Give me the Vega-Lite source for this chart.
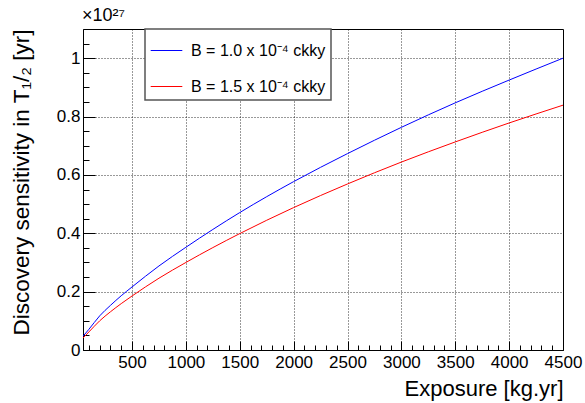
{
  "$schema": "https://vega.github.io/schema/vega-lite/v6.json",
  "width": 480,
  "height": 321,
  "autosize": "none",
  "padding": {"left": 83, "top": 29, "right": 22, "bottom": 53},
  "background": "white",
  "config": {
    "font": "Liberation Sans",
    "view": {"stroke": "black", "strokeWidth": 1},
    "legend": {"strokeWidth": 1.5}
  },
  "title": {"text": "×10²⁷", "anchor": "start", "frame": "group", "offset": 3, "fontSize": 18, "fontWeight": "normal", "font": "Liberation Sans", "color": "black", "dx": -1},
  "data": {
    "values": [
      {"exposure": 45, "sens": 0.047, "series": "B = 1.0 x 10⁻⁴ ckky"},
      {"exposure": 100, "sens": 0.071, "series": "B = 1.0 x 10⁻⁴ ckky"},
      {"exposure": 200, "sens": 0.117, "series": "B = 1.0 x 10⁻⁴ ckky"},
      {"exposure": 300, "sens": 0.153, "series": "B = 1.0 x 10⁻⁴ ckky"},
      {"exposure": 400, "sens": 0.186, "series": "B = 1.0 x 10⁻⁴ ckky"},
      {"exposure": 500, "sens": 0.216, "series": "B = 1.0 x 10⁻⁴ ckky"},
      {"exposure": 750, "sens": 0.288, "series": "B = 1.0 x 10⁻⁴ ckky"},
      {"exposure": 1000, "sens": 0.352, "series": "B = 1.0 x 10⁻⁴ ckky"},
      {"exposure": 1500, "sens": 0.471, "series": "B = 1.0 x 10⁻⁴ ckky"},
      {"exposure": 2000, "sens": 0.577, "series": "B = 1.0 x 10⁻⁴ ckky"},
      {"exposure": 2500, "sens": 0.673, "series": "B = 1.0 x 10⁻⁴ ckky"},
      {"exposure": 3000, "sens": 0.763, "series": "B = 1.0 x 10⁻⁴ ckky"},
      {"exposure": 3500, "sens": 0.847, "series": "B = 1.0 x 10⁻⁴ ckky"},
      {"exposure": 4000, "sens": 0.925, "series": "B = 1.0 x 10⁻⁴ ckky"},
      {"exposure": 4500, "sens": 1.0, "series": "B = 1.0 x 10⁻⁴ ckky"},
      {"exposure": 45, "sens": 0.041, "series": "B = 1.5 x 10⁻⁴ ckky"},
      {"exposure": 100, "sens": 0.062, "series": "B = 1.5 x 10⁻⁴ ckky"},
      {"exposure": 200, "sens": 0.1, "series": "B = 1.5 x 10⁻⁴ ckky"},
      {"exposure": 300, "sens": 0.131, "series": "B = 1.5 x 10⁻⁴ ckky"},
      {"exposure": 400, "sens": 0.159, "series": "B = 1.5 x 10⁻⁴ ckky"},
      {"exposure": 500, "sens": 0.185, "series": "B = 1.5 x 10⁻⁴ ckky"},
      {"exposure": 750, "sens": 0.246, "series": "B = 1.5 x 10⁻⁴ ckky"},
      {"exposure": 1000, "sens": 0.3, "series": "B = 1.5 x 10⁻⁴ ckky"},
      {"exposure": 1500, "sens": 0.399, "series": "B = 1.5 x 10⁻⁴ ckky"},
      {"exposure": 2000, "sens": 0.488, "series": "B = 1.5 x 10⁻⁴ ckky"},
      {"exposure": 2500, "sens": 0.569, "series": "B = 1.5 x 10⁻⁴ ckky"},
      {"exposure": 3000, "sens": 0.644, "series": "B = 1.5 x 10⁻⁴ ckky"},
      {"exposure": 3500, "sens": 0.713, "series": "B = 1.5 x 10⁻⁴ ckky"},
      {"exposure": 4000, "sens": 0.778, "series": "B = 1.5 x 10⁻⁴ ckky"},
      {"exposure": 4500, "sens": 0.839, "series": "B = 1.5 x 10⁻⁴ ckky"}
    ]
  },
  "mark": {"type": "line", "strokeWidth": 1, "interpolate": "monotone", "clip": true},
  "encoding": {
    "x": {
      "field": "exposure", "type": "quantitative",
      "scale": {"domain": [45, 4500], "nice": false, "zero": false},
      "axis": {
        "title": "Exposure [kg.yr]",
        "titleFontSize": 22, "titleFontWeight": "normal", "titleColor": "black",
        "titleAlign": "right", "titleAnchor": "end", "titleX": 480, "titleY": 45, "titleBaseline": "alphabetic",
        "values": [100,200,300,400,500,600,700,800,900,1000,1100,1200,1300,1400,1500,1600,1700,1800,1900,2000,2100,2200,2300,2400,2500,2600,2700,2800,2900,3000,3100,3200,3300,3400,3500,3600,3700,3800,3900,4000,4100,4200,4300,4400,4500],
        "labelExpr": "datum.value % 500 === 0 ? datum.label : ''",
        "format": "d",
        "labelFontSize": 17, "labelColor": "black", "labelPadding": 13, "labelFlush": false,
        "labelOverlap": false,
        "domainColor": "black", "domainWidth": 1,
        "tickColor": "black", "tickWidth": 1,
        "tickSize": {"condition": {"test": "datum.value % 500 === 0", "value": -9}, "value": -5},
        "grid": true,
        "gridColor": "black", "gridDash": [1, 2], "gridWidth": 1,
        "gridOpacity": {"condition": {"test": "datum.value % 500 === 0 && datum.value < 4500", "value": 0.8}, "value": 0}
      }
    },
    "y": {
      "field": "sens", "type": "quantitative",
      "scale": {"domain": [0, 1.1], "nice": false},
      "axis": {
        "title": "Discovery sensitivity in T₁/₂  [yr]",
        "titleFontSize": 22.5, "titleFontWeight": "normal", "titleColor": "black",
        "titleAngle": -90, "titleAlign": "right", "titleAnchor": "end", "titleX": -55, "titleY": 0, "titleBaseline": "alphabetic",
        "values": [0,0.05,0.1,0.15,0.2,0.25,0.3,0.35,0.4,0.45,0.5,0.55,0.6,0.65,0.7,0.75,0.8,0.85,0.9,0.95,1.0,1.05],
        "format": ".2~f",
        "labelExpr": "abs(datum.value*5 - round(datum.value*5)) < 1e-6 ? datum.label : ''",
        "labelFontSize": 17, "labelColor": "black",
        "labelPadding": {"condition": {"test": "abs(datum.value*5 - round(datum.value*5)) < 1e-6", "value": 15}, "value": 9},
        "labelOverlap": false, "labelFlush": false,
        "domainColor": "black", "domainWidth": 1,
        "tickColor": "black", "tickWidth": 1,
        "tickSize": {"condition": {"test": "abs(datum.value*5 - round(datum.value*5)) < 1e-6", "value": -12}, "value": -6},
        "grid": true,
        "gridColor": "black", "gridDash": [1, 2], "gridWidth": 1,
        "gridOpacity": {"condition": {"test": "abs(datum.value*5 - round(datum.value*5)) < 1e-6 && datum.value > 0.01", "value": 0.8}, "value": 0}
      }
    },
    "color": {
      "field": "series", "type": "nominal",
      "scale": {"domain": ["B = 1.0 x 10⁻⁴ ckky", "B = 1.5 x 10⁻⁴ ckky"], "range": ["#0000ff", "#ff0000"]},
      "legend": {
        "title": null,
        "orient": "none", "legendX": 62, "legendY": 0,
        "direction": "vertical",
        "fillColor": "white", "strokeColor": "#555555",
        "padding": 5,
        "symbolType": "stroke", "symbolSize": 1000, "symbolStrokeWidth": 1,
        "labelFontSize": 16, "labelColor": "black", "labelOffset": 8,
        "rowPadding": 11
      }
    }
  }
}
